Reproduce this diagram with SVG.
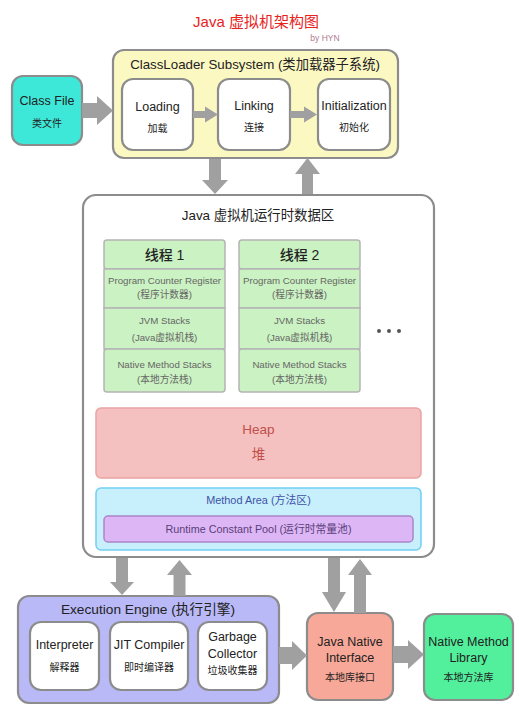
<svg xmlns="http://www.w3.org/2000/svg" width="528" height="708" viewBox="0 0 528 708">
<style>
text{font-family:"Liberation Sans","Noto Sans CJK SC",sans-serif;text-anchor:middle;fill:#222}
.box{stroke:#8c8c8c;stroke-width:2.2}
.inner{fill:#fff;stroke:#8c8c8c;stroke-width:2.2}
.t{font-size:12.5px}
.c{font-size:10px}
.th{fill:#cbf2c2;stroke:#b4b4b4;stroke-width:1.5}
.ts{font-size:9.7px;fill:#666}
.arr{fill:#a0a0a0}
</style>
<rect width="528" height="708" fill="#fff"/>
<text x="256" y="27" style="font-size:15px;fill:#e8231c">Java 虚拟机架构图</text>
<text x="325" y="41" style="font-size:8.5px;fill:#b07a92">by HYN</text>

<g id="classloader">
<rect class="box" x="113" y="50" width="285" height="108" rx="11" fill="#fcf8c2"/>
<text x="255" y="69" style="font-size:13.3px">ClassLoader Subsystem (类加载器子系统)</text>
</g>
<g id="classfile">
<rect class="box" x="12" y="76" width="70" height="69" rx="11" fill="#3ee8d8"/>
<text class="t" x="47" y="105">Class File</text>
<text class="c" x="47" y="127">类文件</text>
</g>
<g id="loading">
<rect class="inner" x="122" y="79" width="71" height="71" rx="11"/>
<text class="t" x="157.5" y="111">Loading</text>
<text class="c" x="157.5" y="132">加载</text>
</g>
<g id="linking">
<rect class="inner" x="218" y="79" width="72" height="71" rx="11"/>
<text class="t" x="254" y="110">Linking</text>
<text class="c" x="254" y="131">连接</text>
</g>
<g id="initialization">
<rect class="inner" x="318" y="79" width="72" height="71" rx="11"/>
<text class="t" x="354" y="110">Initialization</text>
<text class="c" x="354" y="131">初始化</text>
</g>

<g id="runtime-data-area">
<rect x="83" y="195" width="351" height="362" rx="13" fill="#fff" stroke="#8c8c8c" stroke-width="2.2"/>
<text x="258" y="220" style="font-size:13.4px">Java 虚拟机运行时数据区</text>
</g>
<g id="thread1">
<rect class="th" x="104" y="240" width="121" height="29" rx="3"/>
<rect class="th" x="104" y="269" width="121" height="39"/>
<rect class="th" x="104" y="308" width="121" height="41"/>
<rect class="th" x="104" y="349" width="121" height="43" rx="3"/>
<text x="164.5" y="260" style="font-size:14px;font-weight:500">线程 1</text>
<text class="ts" x="164.5" y="284">Program Counter Register</text>
<text class="ts" x="164.5" y="298">(程序计数器)</text>
<text class="ts" x="164.5" y="324">JVM Stacks</text>
<text class="ts" x="164.5" y="341">(Java虚拟机栈)</text>
<text class="ts" x="164.5" y="368">Native Method Stacks</text>
<text class="ts" x="164.5" y="383">(本地方法栈)</text>
</g>
<g id="thread2">
<rect class="th" x="239" y="240" width="121" height="29" rx="3"/>
<rect class="th" x="239" y="269" width="121" height="39"/>
<rect class="th" x="239" y="308" width="121" height="41"/>
<rect class="th" x="239" y="349" width="121" height="43" rx="3"/>
<text x="299.5" y="260" style="font-size:14px;font-weight:500">线程 2</text>
<text class="ts" x="299.5" y="284">Program Counter Register</text>
<text class="ts" x="299.5" y="298">(程序计数器)</text>
<text class="ts" x="299.5" y="324">JVM Stacks</text>
<text class="ts" x="299.5" y="341">(Java虚拟机栈)</text>
<text class="ts" x="299.5" y="368">Native Method Stacks</text>
<text class="ts" x="299.5" y="383">(本地方法栈)</text>
</g>
<g id="more-threads" fill="#555">
<circle cx="379" cy="331" r="2"/>
<circle cx="389" cy="331" r="2"/>
<circle cx="399" cy="331" r="2"/>
</g>
<g id="heap">
<rect x="96" y="408" width="325" height="70" rx="5" fill="#f5c0c0" stroke="#eaa2a2" stroke-width="1.5"/>
<text x="258.5" y="434" style="font-size:13.5px;fill:#c0504a">Heap</text>
<text x="258.5" y="459" style="font-size:13.5px;fill:#c0504a">堆</text>
</g>
<g id="method-area">
<rect x="96" y="488" width="325" height="62" rx="5" fill="#c8effc" stroke="#70d0f2" stroke-width="1.5"/>
<text x="258.5" y="504" style="font-size:10.9px;fill:#3f52a6">Method Area (方法区)</text>
</g>
<g id="runtime-constant-pool">
<rect x="104" y="516" width="309" height="26" rx="4" fill="#ddb7f5" stroke="#ab85c8" stroke-width="1.5"/>
<text x="258.5" y="533" style="font-size:10.8px;fill:#5b3d7a">Runtime Constant Pool (运行时常量池)</text>
</g>

<g id="execution-engine">
<rect class="box" x="18" y="596" width="261" height="107" rx="11" fill="#b9b9f7"/>
<text x="148" y="614" style="font-size:13.7px">Execution Engine (执行引擎)</text>
</g>
<g id="interpreter">
<rect class="inner" x="30" y="622" width="69" height="68" rx="11"/>
<text class="t" x="64.5" y="649">Interpreter</text>
<text class="c" x="64.5" y="671">解释器</text>
</g>
<g id="jit-compiler">
<rect class="inner" x="110" y="622" width="78" height="68" rx="11"/>
<text class="t" x="149" y="649">JIT Compiler</text>
<text class="c" x="149" y="671">即时编译器</text>
</g>
<g id="garbage-collector">
<rect class="inner" x="198" y="622" width="69" height="68" rx="11"/>
<text class="t" x="232.5" y="641">Garbage</text>
<text class="t" x="232.5" y="658">Collector</text>
<text class="c" x="232.5" y="674">垃圾收集器</text>
</g>
<g id="jni">
<rect class="box" x="307" y="613" width="86" height="87" rx="11" fill="#f8a898"/>
<text class="t" x="350" y="646">Java Native</text>
<text class="t" x="350" y="662">Interface</text>
<text class="c" x="350" y="681">本地库接口</text>
</g>
<g id="native-method-library">
<rect class="box" x="424" y="614" width="89" height="86" rx="11" fill="#52f09c"/>
<text class="t" x="468.5" y="646">Native Method</text>
<text class="t" x="468.5" y="662">Library</text>
<text class="c" x="468.5" y="681">本地方法库</text>
</g>

<g id="connectors" class="arr">
<polygon points="82,103 97,103 97,96 113,110.5 97,125 97,118 82,118"/>
<polygon points="193,111 205,111 205,106.5 218,114.5 205,122.5 205,118 193,118"/>
<polygon points="290,111 304,111 304,106.5 317,114.5 304,122.5 304,118 290,118"/>
<polygon points="209,159 221,159 221,180 228,180 215,194 202,180 209,180"/>
<polygon points="307.5,158 320,174 313,174 313,194 302,194 302,174 295,174"/>
<polygon points="116,558 128,558 128,582 134,582 122,595 110,582 116,582"/>
<polygon points="179.5,560 192,575 185.5,575 185.5,596 173.5,596 173.5,575 167,575"/>
<polygon points="328,558 340,558 340,592 346,592 334,612 322,592 328,592"/>
<polygon points="360,559 372,575 366,575 366,613 354,613 354,575 348,575"/>
<polygon points="279,647 292,647 292,641 307,655.5 292,670 292,664 279,664"/>
<polygon points="393,646 408,646 408,640 424,654.5 408,669 408,663 393,663"/>
</g>
</svg>
